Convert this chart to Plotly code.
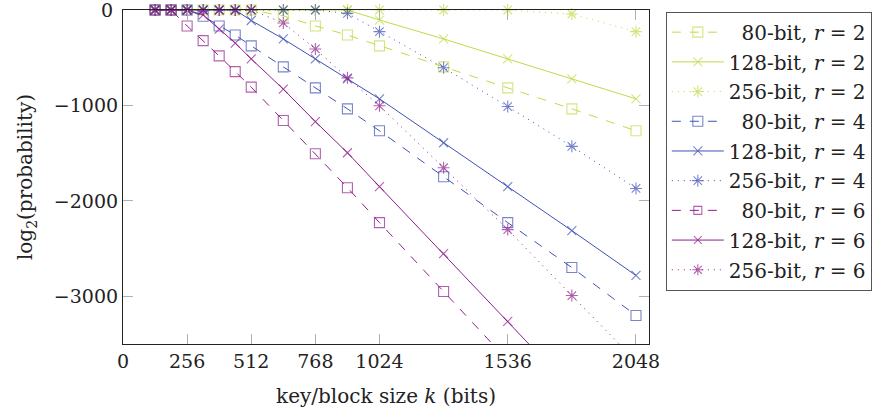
import plotly.graph_objects as go

# key/block sizes (bits)
k = [128, 192, 256, 320, 384, 448, 512, 640, 768, 896, 1024, 1280, 1536, 1792, 2048]

# log2(probability) values
g80 = [0, 0, 0, 0, 0, 0, 0, -63, -167, -262, -376, -596, -816, -1036, -1266]
g128 = [0, 0, 0, 0, 0, 0, 0, 0, 0, 0, -105, -303, -513, -722, -931]
g256 = [0, 0, 0, 0, 0, 0, 0, 0, 0, 0, 0, 0, 0, -42, -227]
b80 = [0, 0, 0, -65, -167, -262, -376, -596, -816, -1036, -1266, -1747, -2228, -2699, -3201]
b128 = [0, 0, 0, 0, 0, 0, -110, -303, -513, -722, -931, -1391, -1851, -2312, -2782]
b256 = [0, 0, 0, 0, 0, 0, 0, 0, 0, -35, -227, -605, -1012, -1429, -1870]
p80 = [0, 0, -167, -321, -481, -646, -808, -1158, -1506, -1862, -2228, -2950, -3672, None, None]
p128 = [0, 0, 0, -52, -200, -346, -513, -829, -1170, -1496, -1851, -2552, -3264, -3975, None]
p256 = [0, 0, 0, 0, 0, 0, 0, -136, -408, -711, -1004, -1653, -2301, -2992, -3680]

x_ticks = [0, 256, 512, 768, 1024, 1536, 2048]
y_ticks = [0, -1000, -2000, -3000]
y_ticktext = ["0", "\u22121000", "\u22122000", "\u22123000"]

names = [
    "&nbsp;&nbsp;80-bit, <i>r</i> = 2", "128-bit, <i>r</i> = 2", "256-bit, <i>r</i> = 2",
    "&nbsp;&nbsp;80-bit, <i>r</i> = 4", "128-bit, <i>r</i> = 4", "256-bit, <i>r</i> = 4",
    "&nbsp;&nbsp;80-bit, <i>r</i> = 6", "128-bit, <i>r</i> = 6", "256-bit, <i>r</i> = 6",
]
series = [g80, g128, g256, b80, b128, b256, p80, p128, p256]

GREEN = "#bfdc48"
BLUE = "#3f51b5"
PURPLE = "#8e1f8c"
colors = [GREEN] * 3 + [BLUE] * 3 + [PURPLE] * 3
dashes = ["dash", "solid", "1px,5px"] * 3
symbols = ["square-open", "x-thin-open", "asterisk-open"] * 3
msizes = [10, 9, 10] * 3

YMIN, YMAX = -3500, 0

fig = go.Figure()
for i, (vals, name) in enumerate(zip(series, names)):
    sizes = [msizes[i] if (v is not None and v >= YMIN) else 0 for v in vals]
    fig.add_trace(go.Scatter(
        x=k, y=vals, name=name, mode="lines+markers",
        legendgroup=f"g{i}",
        line=dict(color=colors[i], width=1, dash=dashes[i]),
        marker=dict(symbol=symbols[i], size=sizes, color=colors[i],
                    line=dict(color=colors[i], width=1.1)),
        cliponaxis=False, connectgaps=False,
    ))

FONT = "DejaVu Serif, serif"

# plotly hides the top-end y tick label here, so place the "0" label explicitly
fig.add_annotation(
    x=0, xref="paper", y=y_ticks[0], yref="y", text=y_ticktext[0],
    xanchor="right", yanchor="middle", xshift=-8, showarrow=False,
    font=dict(family=FONT, size=19, color="#222"),
)

fig.update_layout(
    width=883, height=413,
    margin=dict(l=123, r=234, t=10, b=69, autoexpand=False),
    paper_bgcolor="white", plot_bgcolor="white",
    font=dict(family=FONT, size=20, color="#222"),
    showlegend=True,
    legend=dict(
        x=1.032, y=0.995, xanchor="left", yanchor="top",
        bordercolor="#555", borderwidth=1, bgcolor="white",
        font=dict(family=FONT, size=20, color="#222"),
        itemwidth=52, tracegroupgap=0.7,
    ),
    xaxis=dict(
        range=[0, 2100], tickvals=x_ticks,
        ticks="inside", ticklen=10, tickcolor="#b0b0b0", tickwidth=1,
        showline=True, linecolor="#222", linewidth=1.2, mirror="allticks",
        showgrid=False, zeroline=False, automargin=False,
        title=dict(text="key/block size <i>k</i> (bits)", standoff=18,
                   font=dict(family=FONT, size=20)),
        tickfont=dict(family=FONT, size=19),
    ),
    yaxis=dict(
        range=[YMIN, YMAX], tickvals=y_ticks[1:], ticktext=y_ticktext[1:],
        ticks="inside", ticklen=10, tickcolor="#b0b0b0", tickwidth=1,
        showline=True, linecolor="#222", linewidth=1.2, mirror="allticks",
        showgrid=False, zeroline=False, automargin=False,
        title=dict(text="log<sub>2</sub>(probability)", standoff=15,
                   font=dict(family=FONT, size=20)),
        tickfont=dict(family=FONT, size=19),
    ),
)

fig.write_html("out.html", config={"displayModeBar": False},
               post_script="document.body.style.margin='0';")
